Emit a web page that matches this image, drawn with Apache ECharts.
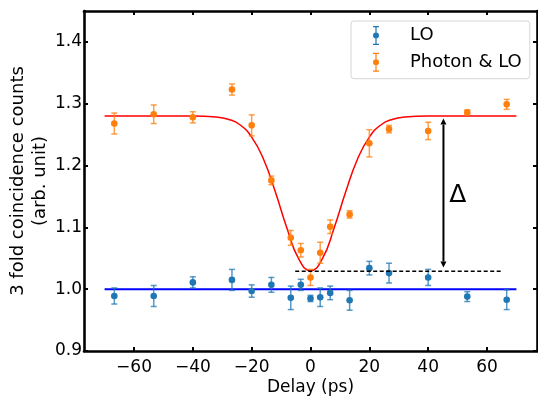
<!DOCTYPE html>
<html>
<head>
<meta charset="utf-8">
<script src="https://cdn.jsdelivr.net/npm/echarts@6/dist/echarts.min.js"></script>
<style>
  html, body { margin: 0; padding: 0; background: #fff; }
  #chart { width: 538px; height: 399px; }
</style>
</head>
<body>
<div id="chart"></div>
<script>
// delay positions (ps), shared by both data sets
const delay = [-66.7, -53.3, -40, -26.7, -20, -13.3, -6.7, -3.3, 0, 3.3, 6.7, 13.3, 20, 26.7, 40, 53.3, 66.7];

const loValues = [0.989, 0.989, 1.011, 1.015, 0.997, 1.007, 0.986, 1.007, 0.985, 0.987, 0.994, 0.982, 1.034, 1.026, 1.019, 0.988, 0.983];
const loErrors = [0.013, 0.017, 0.009, 0.017, 0.010, 0.012, 0.019, 0.009, 0.005, 0.015, 0.011, 0.016, 0.011, 0.016, 0.013, 0.008, 0.016];

const photonValues = [1.268, 1.283, 1.278, 1.323, 1.265, 1.176, 1.083, 1.063, 1.019, 1.059, 1.101, 1.121, 1.236, 1.259, 1.256, 1.286, 1.299];
const photonErrors = [0.017, 0.015, 0.009, 0.009, 0.017, 0.007, 0.012, 0.011, 0.013, 0.017, 0.011, 0.006, 0.022, 0.006, 0.014, 0.004, 0.008];

// fitted dip curve
const fitX = [-70, -40, -32, -28, -24, -20, -16, -12, -8, -4, 0, 4, 8, 12, 16, 20, 24, 28, 32, 40, 70];
const fitY = [1.28, 1.28, 1.2785, 1.275, 1.266, 1.246, 1.2105, 1.158, 1.0985, 1.049, 1.030, 1.049, 1.0985, 1.158, 1.2105, 1.246, 1.266, 1.275, 1.2785, 1.28, 1.28];

// flat LO level
const loFitX = [-70, 70];
const loFitY = [1.0, 1.0];

// dashed reference at the dip minimum
const dashX = [-5.2, 65];
const dashY = [1.029, 1.029];

// double arrow and its label
const arrowX = 45.2;
const arrowY = [1.035, 1.276];
const deltaPos = [50.1, 1.152];

const xTicks = [-60, -40, -20, 0, 20, 40, 60];
const yTicks = [0.9, 1.0, 1.1, 1.2, 1.3, 1.4];

const FONT = "DejaVu Sans";
const BLUE = "#1f77b4";
const ORANGE = "#ff7f0e";

const errIcon = "path://M2 0 L8 0 L8 1.2 L5.6 1.2 L5.6 6.5 L4.4 6.5 L4.4 1.2 L2 1.2 Z" +
  "M4.4 12.5 L5.6 12.5 L5.6 17.8 L8 17.8 L8 19 L2 19 L2 17.8 L4.4 17.8 Z" +
  "M8 9.5 A3 3 0 1 1 2 9.5 A3 3 0 1 1 8 9.5 Z";

function errorBars(color) {
  return function (params, api) {
    const x = api.value(0), y = api.value(1), e = api.value(2);
    const c = api.coord([x, y]);
    const top = api.coord([x, y + e])[1];
    const bot = api.coord([x, y - e])[1];
    const bar = { stroke: color, lineWidth: 1.5, opacity: 0.75 };
    return {
      type: "group",
      children: [
        { type: "line", shape: { x1: c[0], y1: top, x2: c[0], y2: bot }, style: bar },
        { type: "line", shape: { x1: c[0] - 3, y1: top, x2: c[0] + 3, y2: top }, style: bar },
        { type: "line", shape: { x1: c[0] - 3, y1: bot, x2: c[0] + 3, y2: bot }, style: bar },
        { type: "circle", shape: { cx: c[0], cy: c[1], r: 3.3 }, style: { fill: color } }
      ]
    };
  };
}

const zip = (xs, ys) => xs.map((x, i) => [x, ys[i]]);

const xAxisBase = {
  type: "value",
  min: -77,
  max: 77,
  axisLine: { onZero: false, lineStyle: { color: "#000", width: 2.6 } },
  axisTick: { inside: true, length: 4, customValues: xTicks, lineStyle: { color: "#000", width: 2 } },
  splitLine: { show: false }
};
const yAxisBase = {
  type: "value",
  min: 0.9,
  max: 1.45,
  axisLine: { onZero: false, lineStyle: { color: "#000", width: 2.6 } },
  axisTick: { inside: true, length: 4, customValues: yTicks, lineStyle: { color: "#000", width: 2 } },
  splitLine: { show: false }
};

const chart = echarts.init(document.getElementById("chart"));
chart.setOption({
  animation: false,
  textStyle: { fontFamily: FONT },
  grid: { left: 84, right: 1, top: 11, bottom: 48, outerBoundsMode: "none", containLabel: false },
  legend: {
    orient: "vertical",
    left: 351,
    top: 21,
    padding: [5, 8, 7, 22],
    itemWidth: 20,
    itemHeight: 19,
    itemGap: 7.7,
    borderColor: "#d6d6d6",
    borderWidth: 1,
    borderRadius: 3,
    backgroundColor: "rgba(255,255,255,0.8)",
    textStyle: { fontFamily: FONT, fontSize: 18, color: "#000", padding: [0, 0, 0, 19] },
    data: [
      { name: "LO", icon: errIcon },
      { name: "Photon & LO", icon: errIcon }
    ]
  },
  xAxis: [
    Object.assign({}, xAxisBase, {
      position: "bottom",
      name: "Delay (ps)",
      nameLocation: "middle",
      nameGap: 28,
      nameMoveOverlap: false,
      nameTextStyle: { fontFamily: FONT, fontSize: 17, color: "#000" },
      axisLabel: {
        customValues: xTicks,
        margin: 8,
        fontFamily: FONT,
        fontSize: 17,
        color: "#000",
        formatter: v => String(v).replace("-", "\u2212")
      }
    }),
    Object.assign({}, xAxisBase, { position: "top", axisLabel: { show: false } })
  ],
  yAxis: [
    Object.assign({}, yAxisBase, {
      position: "left",
      name: "3 fold coincidence counts\n(arb. unit)",
      nameLocation: "middle",
      nameGap: 33,
      nameMoveOverlap: false,
      nameTextStyle: { fontFamily: FONT, fontSize: 18, color: "#000", lineHeight: 22 },
      axisLabel: {
        customValues: yTicks,
        margin: 2,
        fontFamily: FONT,
        fontSize: 17,
        color: "#000",
        formatter: v => v.toFixed(1)
      }
    }),
    Object.assign({}, yAxisBase, { position: "right", axisLabel: { show: false } })
  ],
  series: [
    {
      name: "LO fit",
      type: "line",
      data: zip(loFitX, loFitY),
      showSymbol: false,
      lineStyle: { color: "#0000ff", width: 2 },
      z: 2
    },
    {
      name: "Photon fit",
      type: "line",
      data: zip(fitX, fitY),
      showSymbol: false,
      smooth: true,
      lineStyle: { color: "#ff0000", width: 1.5 },
      z: 2
    },
    {
      name: "LO",
      type: "custom",
      data: delay.map((x, i) => [x, loValues[i], loErrors[i]]),
      encode: { x: 0, y: 1 },
      itemStyle: { color: BLUE },
      renderItem: errorBars(BLUE),
      z: 3
    },
    {
      name: "Photon & LO",
      type: "custom",
      data: delay.map((x, i) => [x, photonValues[i], photonErrors[i]]),
      encode: { x: 0, y: 1 },
      itemStyle: { color: ORANGE },
      renderItem: errorBars(ORANGE),
      z: 3
    },
    {
      name: "dip level",
      type: "line",
      data: zip(dashX, dashY),
      showSymbol: false,
      lineStyle: { color: "#000", width: 1.3, type: [4, 2.5] },
      z: 4
    },
    {
      name: "delta",
      type: "custom",
      data: [[arrowX, arrowY[0], arrowY[1]]],
      encode: { x: 0, y: [1, 2] },
      renderItem: function (params, api) {
        const lo = api.coord([api.value(0), api.value(1)]);
        const hi = api.coord([api.value(0), api.value(2)]);
        const x = lo[0], h = 6, w = 3;
        return {
          type: "group",
          children: [
            { type: "line", shape: { x1: x, y1: hi[1] + h, x2: x, y2: lo[1] - h }, style: { stroke: "#000", lineWidth: 2 } },
            { type: "polygon", shape: { points: [[x, hi[1]], [x - w, hi[1] + h], [x + w, hi[1] + h]] }, style: { fill: "#000" } },
            { type: "polygon", shape: { points: [[x, lo[1]], [x - w, lo[1] - h], [x + w, lo[1] - h]] }, style: { fill: "#000" } }
          ]
        };
      },
      z: 5
    },
    {
      name: "delta label",
      type: "custom",
      data: [deltaPos],
      encode: { x: 0, y: 1 },
      renderItem: function (params, api) {
        const p = api.coord([api.value(0), api.value(1)]);
        return {
          type: "text",
          x: p[0],
          y: p[1],
          style: { text: "\u0394", fontFamily: FONT, fontSize: 25, fill: "#000", align: "center", verticalAlign: "middle" }
        };
      },
      z: 5
    }
  ]
});
window.addEventListener("resize", () => chart.resize());
</script>
</body>
</html>
